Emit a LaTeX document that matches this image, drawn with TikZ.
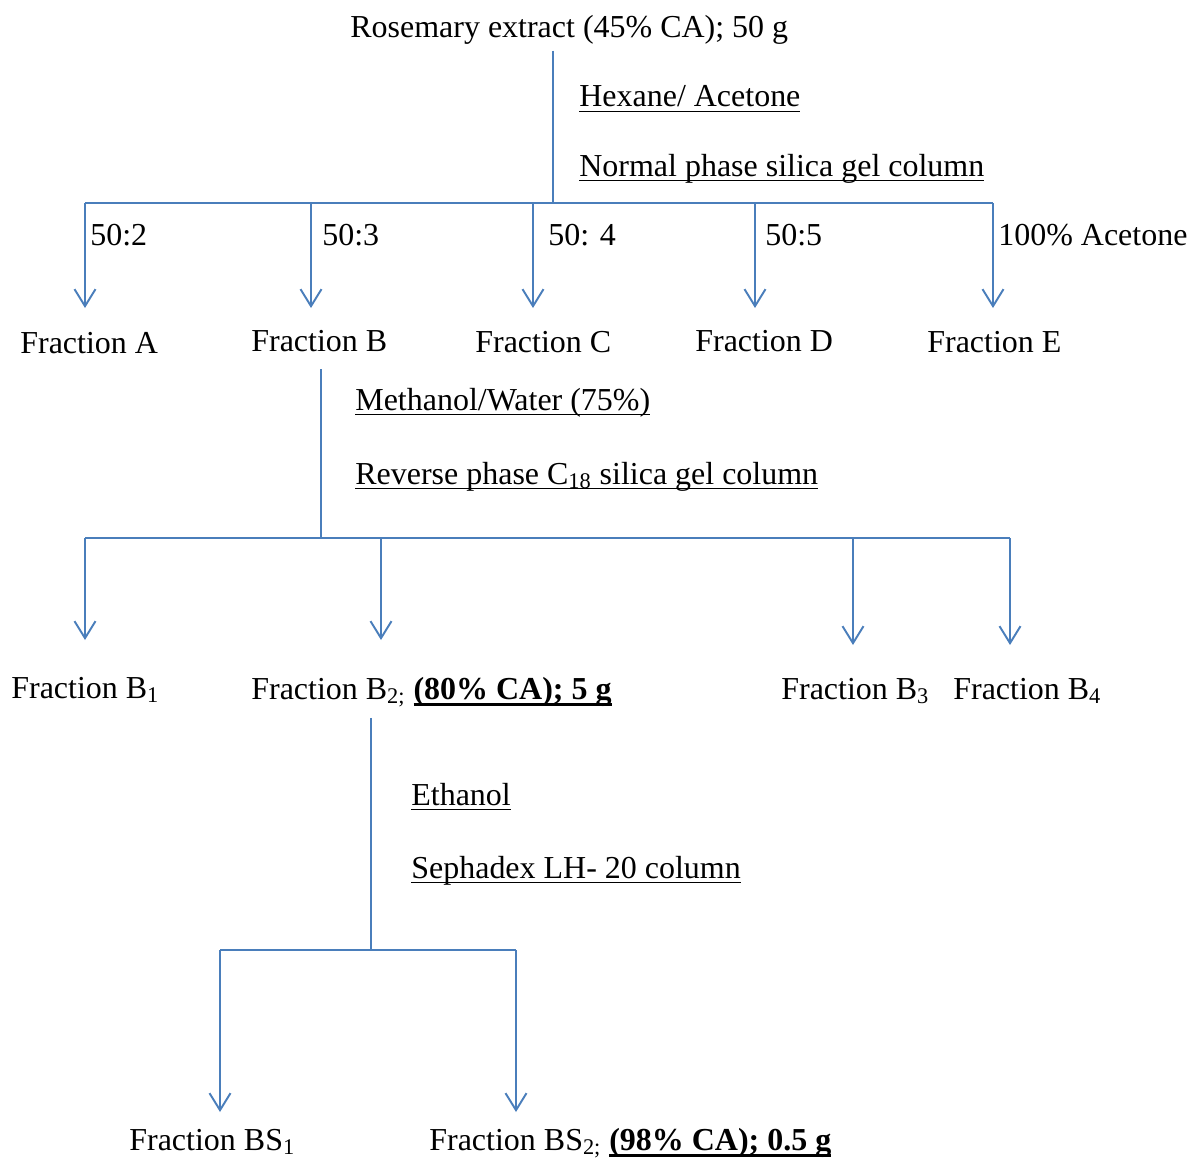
\documentclass[tikz,border=0pt]{standalone}
\usepackage{fontspec}
\setmainfont{Liberation Serif}
\usetikzlibrary{arrows.meta}
\definecolor{lineblue}{HTML}{4A7EBB}
\newcommand{\ultext}[3][-3pt]{\setbox0=\hbox{#3}\leavevmode\rlap{\rule[#1]{\wd0}{#2}}\box0}
\tikzset{
  flow/.style={draw=lineblue, line width=1.1pt},
  branch/.style={flow, -{Straight Barb[length=0.34cm, width=0.42cm, line width=1.1pt]}},
  txt/.style={anchor=base west, inner sep=0pt, font=\fontsize{18.2}{21}\selectfont},
}
\begin{document}
\begin{tikzpicture}[x=0.02cm, y=-0.02cm]
    \useasboundingbox (0,0) rectangle (1190,1159);
    % normal phase column
    \node[txt] (rosemary) at (350,38) {Rosemary extract (45\% CA); 50 g};
    \node[txt] (hexane) at (579,107) {\ultext{1pt}{Hexane/ Acetone}};
    \node[txt] (normal) at (579,176) {\ultext{1pt}{Normal phase silica gel column}};
    \coordinate (bar1) at (553,203);
    \draw[flow, shorten <=3pt] (rosemary.south -| bar1) -- (bar1);
    \draw[flow] (85,203) coordinate (bar1l) -- (993,203) coordinate (bar1r);
    \foreach \x/\lx/\ratio/\fx/\fy/\fname [count=\k] in
        {85/90/50:2/20/353/A, 311/322/50:3/251/351/B, 533/548/50: 4/475/352/C,
         755/765/50:5/695/351/D, 993/998/100\% Acetone/927/352/E}
        {
        \coordinate (top\k) at (\x,203);
        \coordinate (tip\k) at (\x,308);
        \draw[branch] (top\k) -- (tip\k);
        \node[txt] (ratio\k) at (\lx,245) {\ratio};
        \node[txt] (frac\fname) at (\fx,\fy) {Fraction \fname};
        }
    % reverse phase column
    \node[txt] (methanol) at (355,410) {\ultext{1pt}{Methanol/Water (75\%)}};
    \node[txt] (reverse) at (355,484) {\ultext{1pt}{Reverse phase C\textsubscript{18} silica gel column}};
    \coordinate (bar2) at (321,538);
    \draw[flow, shorten <=10pt] (fracB.south -| bar2) -- (bar2);
    \draw[flow] (85,538) coordinate (bar2l) -- (1010,538) coordinate (bar2r);
    \foreach \x/\y [count=\k] in {85/640, 381/640, 853/645, 1010/645}
        {
        \coordinate (btop\k) at (\x,538);
        \coordinate (btip\k) at (\x,\y);
        \draw[branch] (btop\k) -- (btip\k);
        }
    \node[txt] (fracBone) at (11,698) {Fraction B\textsubscript{1}};
    \node[txt] (fracBtwo) at (251,699) {Fraction B\textsubscript{2;} \ultext[-4.2pt]{2pt}{\textbf{(80\% CA); 5 g}}};
    \node[txt] (fracBthree) at (781,699) {Fraction B\textsubscript{3}};
    \node[txt] (fracBfour) at (953,699) {Fraction B\textsubscript{4}};
    % sephadex column
    \node[txt] (ethanol) at (411,805) {\ultext{1pt}{Ethanol}};
    \node[txt] (sephadex) at (411,878) {\ultext{1pt}{Sephadex LH- 20 column}};
    \coordinate (bar3) at (371,950);
    \draw[flow, shorten <=6pt] (fracBtwo.south -| bar3) -- (bar3);
    \draw[flow] (220,950) coordinate (bar3l) -- (516,950) coordinate (bar3r);
    \foreach \x [count=\k] in {220,516}
        {
        \coordinate (stop\k) at (\x,950);
        \coordinate (stip\k) at (\x,1112);
        \draw[branch] (stop\k) -- (stip\k);
        }
    \node[txt] (fracBSone) at (129,1150) {Fraction BS\textsubscript{1}};
    \node[txt] (fracBStwo) at (429,1150) {Fraction BS\textsubscript{2;} \ultext[-4.2pt]{2pt}{\textbf{(98\% CA); 0.5 g}}};
\end{tikzpicture}
\end{document}
